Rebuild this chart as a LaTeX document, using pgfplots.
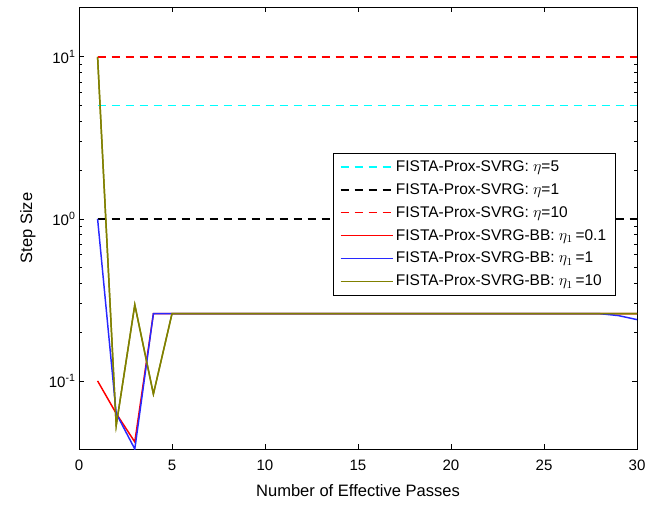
\documentclass[border=0pt]{standalone}
\usepackage{pgfplots}
\pgfplotsset{compat=1.18}
\usepackage{fontspec}
\setmainfont{Liberation Sans}

\definecolor{lnred}{RGB}{255,0,0}
\definecolor{lnblue}{RGB}{40,40,255}
\definecolor{lncyan}{RGB}{0,255,255}
\definecolor{lnolive}{RGB}{128,128,0}

\pgfplotsset{
  mdash/.style={line width=1.1pt, dash pattern=on 6pt off 4.5pt},
  msolid/.style={line width=1.1pt, solid},
}

\begin{document}
\begin{tikzpicture}
\begin{axis}[
  scale only axis,
  clip mode=individual,
  width=418.5pt, height=331.5pt,
  xmin=0, xmax=30, ymode=log, ymin=0.038, ymax=20.3,
  xtick={0,5,10,15,20,25,30},
  ytick={0.1,1,10},
  yticklabels={10\textsuperscript{-1},10\textsuperscript{0},10\textsuperscript{1}},
  tick align=inside,
  major tick length=4pt, minor tick length=2.5pt,
  axis line style={line width=0.5pt},
  every tick/.style={black, line width=0.5pt},
  tick label style={font=\fontsize{11.3}{13}\selectfont},
  xticklabel style={yshift=-5pt},
  yticklabel style={xshift=1pt},
  /pgf/number format/assume math mode=true,
  xlabel={Number of Effective Passes},
  ylabel={Step Size},
  label style={font=\fontsize{12.4}{14}\selectfont},
  xlabel style={yshift=-3pt},
  ylabel style={yshift=3pt},
  legend style={at={(0.455,0.670)}, anchor=north west,
    font=\fontsize{11.6}{13}\selectfont,
    inner xsep=5pt, inner ysep=3.5pt, row sep=3.6pt, cells={anchor=west}},
  legend image code/.code={\draw[#1] (0pt,0pt) -- (39pt,0pt);},
  legend cell align=left,
]
\addplot[color=lnolive, msolid] coordinates {
 (1,10) (2,0.053) (3,0.295) (4,0.083) (5,0.26) (10,0.26) (15,0.26) (20,0.26) (25,0.26) (30,0.26)};
\addplot[color=lncyan, mdash] coordinates {(1,5) (30,5)};
\addplot[color=black, mdash] coordinates {(1,1) (30,1)};
\addplot[color=lnred, mdash] coordinates {(1,10) (30,10)};
\addplot[color=lnred, msolid] coordinates {
 (1,0.1) (2,0.063) (3,0.042) (4,0.26) (5,0.26) (10,0.26) (15,0.26) (20,0.26) (25,0.26) (30,0.26)};
\addplot[color=lnblue, msolid] coordinates {
 (1,1) (2,0.063) (3,0.038) (4,0.26) (5,0.26) (10,0.26) (15,0.26) (20,0.26) (25,0.26) (28,0.26) (29,0.253) (30,0.239)};
\addplot[color=lnolive, msolid] coordinates {
 (1,10) (2,0.053) (3,0.295) (4,0.083) (5,0.26) (10,0.26) (15,0.26) (20,0.26) (25,0.26) (30,0.26)};
\legend{,FISTA-Prox-SVRG: $\eta$=5,FISTA-Prox-SVRG: $\eta$=1,FISTA-Prox-SVRG: $\eta$=10,FISTA-Prox-SVRG-BB: $\eta_{1}$\,=0.1,FISTA-Prox-SVRG-BB: $\eta_{1}$\,=1,FISTA-Prox-SVRG-BB: $\eta_{1}$\,=10}
\end{axis}
% page frame: fixed margins around the axis box
\pgfresetboundingbox
\path (current axis.south west) ++(-59.25pt,-42pt) coordinate (bbsw);
\path (current axis.north east) ++(22.5pt,5.25pt) coordinate (bbne);
\useasboundingbox (bbsw) rectangle (bbne);
\end{tikzpicture}
\end{document}
